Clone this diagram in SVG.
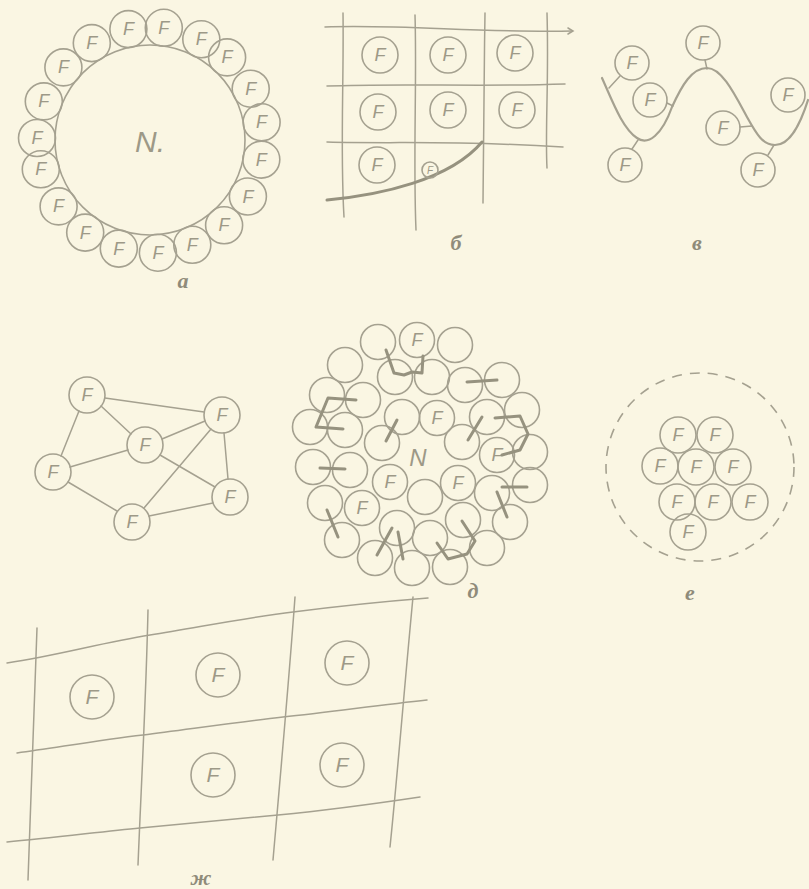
<svg xmlns="http://www.w3.org/2000/svg" width="809" height="889" viewBox="0 0 809 889">
<style>
.c{fill:none;stroke:#a5a190;stroke-width:1.6}
.ln{fill:none;stroke:#a5a190;stroke-width:1.5;stroke-linecap:round}
.bd{fill:none;stroke:#96927f;stroke-width:3;stroke-linecap:round;stroke-linejoin:round}
.t{font-family:"Liberation Sans",sans-serif;font-style:italic;fill:#9d9987;font-size:18px;text-anchor:middle}
.lb{font-family:"Liberation Serif",serif;font-style:italic;font-weight:bold;fill:#8f8b7a;font-size:22px;text-anchor:middle}
</style>
<rect width="809" height="889" fill="#faf6e3"/>

<!-- Panel a -->
<g id="panel-a">
<g id="a-nucleus"><circle class="c" cx="150" cy="140" r="95"/><text class="t" x="150" y="152" style="font-size:30px">N.</text></g>
<g id="a-ring">
<g><circle class="c" cx="43.8" cy="101.4" r="18.5"/><text class="t" x="43.8" y="107.4">F</text></g>
<g><circle class="c" cx="63.4" cy="67.4" r="18.5"/><text class="t" x="63.4" y="73.4">F</text></g>
<g><circle class="c" cx="91.8" cy="43.1" r="18.5"/><text class="t" x="91.8" y="49.1">F</text></g>
<g><circle class="c" cx="128.4" cy="29.1" r="18.5"/><text class="t" x="128.4" y="35.1">F</text></g>
<g><circle class="c" cx="163.8" cy="27.8" r="18.5"/><text class="t" x="163.8" y="33.8">F</text></g>
<g><circle class="c" cx="201.3" cy="39.3" r="18.5"/><text class="t" x="201.3" y="45.3">F</text></g>
<g><circle class="c" cx="227.1" cy="57.4" r="18.5"/><text class="t" x="227.1" y="63.4">F</text></g>
<g><circle class="c" cx="250.7" cy="88.7" r="18.5"/><text class="t" x="250.7" y="94.7">F</text></g>
<g><circle class="c" cx="261.6" cy="122.3" r="18.5"/><text class="t" x="261.6" y="128.3">F</text></g>
<g><circle class="c" cx="261.3" cy="159.6" r="18.5"/><text class="t" x="261.3" y="165.6">F</text></g>
<g><circle class="c" cx="247.9" cy="196.5" r="18.5"/><text class="t" x="247.9" y="202.5">F</text></g>
<g><circle class="c" cx="224.1" cy="225.3" r="18.5"/><text class="t" x="224.1" y="231.3">F</text></g>
<g><circle class="c" cx="192.3" cy="244.8" r="18.5"/><text class="t" x="192.3" y="250.8">F</text></g>
<g><circle class="c" cx="157.9" cy="252.7" r="18.5"/><text class="t" x="157.9" y="258.7">F</text></g>
<g><circle class="c" cx="118.8" cy="248.6" r="18.5"/><text class="t" x="118.8" y="254.6">F</text></g>
<g><circle class="c" cx="85.2" cy="232.6" r="18.5"/><text class="t" x="85.2" y="238.6">F</text></g>
<g><circle class="c" cx="58.6" cy="206.4" r="18.5"/><text class="t" x="58.6" y="212.4">F</text></g>
<g><circle class="c" cx="40.8" cy="169.3" r="18.5"/><text class="t" x="40.8" y="175.3">F</text></g>
<g><circle class="c" cx="37" cy="138" r="18.5"/><text class="t" x="37" y="144">F</text></g>
</g>
<text class="lb" x="183" y="288">а</text>
</g>

<!-- Panel b -->
<g id="panel-b">
<path class="ln" d="M325,27 C400,24 480,33 572,31"/>
<path class="ln" d="M568,28 L573,31 L568,34"/>
<path class="ln" d="M327,86 C400,83 480,87 565,84"/>
<path class="ln" d="M327,142 C400,144 450,140 563,147"/>
<path class="ln" d="M343,13 C344,80 340,150 344,217"/>
<path class="ln" d="M415,15 C417,80 413,160 416,230"/>
<path class="ln" d="M485,13 C484,80 483,150 483,203"/>
<path class="ln" d="M547,13 C549,80 545,130 547,168"/>
<path class="bd" d="M327,200 C380,195 450,180 482,142"/>
<g id="b-f1"><circle class="c" cx="380" cy="55" r="18"/><text class="t" x="380" y="61">F</text></g>
<g id="b-f2"><circle class="c" cx="448" cy="55" r="18"/><text class="t" x="448" y="61">F</text></g>
<g id="b-f3"><circle class="c" cx="515" cy="53" r="18"/><text class="t" x="515" y="59">F</text></g>
<g id="b-f4"><circle class="c" cx="378" cy="112" r="18"/><text class="t" x="378" y="118">F</text></g>
<g id="b-f5"><circle class="c" cx="448" cy="110" r="18"/><text class="t" x="448" y="116">F</text></g>
<g id="b-f6"><circle class="c" cx="517" cy="110" r="18"/><text class="t" x="517" y="116">F</text></g>
<g id="b-f7"><circle class="c" cx="377" cy="165" r="18"/><text class="t" x="377" y="171">F</text></g>
<g id="b-f8"><circle class="c" cx="430" cy="170" r="8"/><text class="t" x="430" y="174" style="font-size:10px">F</text></g>
<text class="lb" x="456" y="250">б</text>
</g>

<!-- Panel v -->
<g id="panel-v">
<path class="ln" style="stroke-width:2.2" d="M602,78 C612,100 622,128 637,138 C648,146 662,135 672,107 C682,85 692,68 707,68 C722,68 735,95 747,117 C757,135 763,145 775,145 C790,145 800,125 808,100"/>
<path class="ln" d="M609,88 L620,76 M667,103 L673,106 M705,60 L707,69 M632,149 L638,140 M740,127 L752,126 M768,155 L774,145"/>
<g id="v-f1"><circle class="c" cx="632" cy="63" r="17"/><text class="t" x="632" y="69">F</text></g>
<g id="v-f2"><circle class="c" cx="650" cy="100" r="17"/><text class="t" x="650" y="106">F</text></g>
<g id="v-f3"><circle class="c" cx="703" cy="43" r="17"/><text class="t" x="703" y="49">F</text></g>
<g id="v-f4"><circle class="c" cx="625" cy="165" r="17"/><text class="t" x="625" y="171">F</text></g>
<g id="v-f5"><circle class="c" cx="723" cy="128" r="17"/><text class="t" x="723" y="134">F</text></g>
<g id="v-f6"><circle class="c" cx="788" cy="95" r="17"/><text class="t" x="788" y="101">F</text></g>
<g id="v-f7"><circle class="c" cx="758" cy="170" r="17"/><text class="t" x="758" y="176">F</text></g>
<text class="lb" x="697" y="250">в</text>
</g>

<!-- Panel g (network) -->
<g id="panel-g">
<g id="connectors">
<line class="ln" x1="105" y1="398" x2="204" y2="412"/>
<line class="ln" x1="101" y1="406" x2="131" y2="434"/>
<line class="ln" x1="79" y1="411" x2="61" y2="456"/>
<line class="ln" x1="128" y1="450" x2="70" y2="467"/>
<line class="ln" x1="162" y1="439" x2="205" y2="421"/>
<line class="ln" x1="160" y1="455" x2="215" y2="487"/>
<line class="ln" x1="68" y1="482" x2="117" y2="511"/>
<line class="ln" x1="144" y1="508" x2="211" y2="429"/>
<line class="ln" x1="149" y1="516" x2="213" y2="503"/>
<line class="ln" x1="224" y1="433" x2="228" y2="479"/>
</g>
<g id="g-f1"><circle class="c" cx="87" cy="395" r="18"/><text class="t" x="87" y="401">F</text></g>
<g id="g-f2"><circle class="c" cx="222" cy="415" r="18"/><text class="t" x="222" y="421">F</text></g>
<g id="g-f3"><circle class="c" cx="145" cy="445" r="18"/><text class="t" x="145" y="451">F</text></g>
<g id="g-f4"><circle class="c" cx="53" cy="472" r="18"/><text class="t" x="53" y="478">F</text></g>
<g id="g-f5"><circle class="c" cx="230" cy="497" r="18"/><text class="t" x="230" y="503">F</text></g>
<g id="g-f6"><circle class="c" cx="132" cy="522" r="18"/><text class="t" x="132" y="528">F</text></g>
</g>

<!-- Panel d (cluster) -->
<g id="panel-d">
<g id="d-circles">
<circle class="c" cx="378" cy="342" r="17.5"/>
<g id="d-f1"><circle class="c" cx="417" cy="340" r="17.5"/><text class="t" x="417" y="346">F</text></g>
<circle class="c" cx="455" cy="345" r="17.5"/>
<circle class="c" cx="345" cy="365" r="17.5"/>
<circle class="c" cx="395" cy="377" r="17.5"/>
<circle class="c" cx="432" cy="377" r="17.5"/>
<circle class="c" cx="465" cy="385" r="17.5"/>
<circle class="c" cx="502" cy="380" r="17.5"/>
<circle class="c" cx="327" cy="395" r="17.5"/>
<circle class="c" cx="363" cy="400" r="17.5"/>
<circle class="c" cx="402" cy="417" r="17.5"/>
<g id="d-f2"><circle class="c" cx="437" cy="418" r="17.5"/><text class="t" x="437" y="424">F</text></g>
<circle class="c" cx="487" cy="417" r="17.5"/>
<circle class="c" cx="522" cy="410" r="17.5"/>
<circle class="c" cx="310" cy="427" r="17.5"/>
<circle class="c" cx="345" cy="430" r="17.5"/>
<circle class="c" cx="382" cy="443" r="17.5"/>
<circle class="c" cx="462" cy="442" r="17.5"/>
<g id="d-f3"><circle class="c" cx="497" cy="455" r="17.5"/><text class="t" x="497" y="461">F</text></g>
<circle class="c" cx="530" cy="452" r="17.5"/>
<circle class="c" cx="313" cy="467" r="17.5"/>
<circle class="c" cx="350" cy="470" r="17.5"/>
<g id="d-f4"><circle class="c" cx="390" cy="482" r="17.5"/><text class="t" x="390" y="488">F</text></g>
<g id="d-f5"><circle class="c" cx="458" cy="483" r="17.5"/><text class="t" x="458" y="489">F</text></g>
<circle class="c" cx="492" cy="493" r="17.5"/>
<circle class="c" cx="530" cy="485" r="17.5"/>
<circle class="c" cx="325" cy="503" r="17.5"/>
<g id="d-f6"><circle class="c" cx="362" cy="508" r="17.5"/><text class="t" x="362" y="514">F</text></g>
<circle class="c" cx="425" cy="497" r="17.5"/>
<circle class="c" cx="463" cy="520" r="17.5"/>
<circle class="c" cx="510" cy="522" r="17.5"/>
<circle class="c" cx="342" cy="540" r="17.5"/>
<circle class="c" cx="397" cy="528" r="17.5"/>
<circle class="c" cx="430" cy="538" r="17.5"/>
<circle class="c" cx="487" cy="548" r="17.5"/>
<circle class="c" cx="375" cy="558" r="17.5"/>
<circle class="c" cx="412" cy="568" r="17.5"/>
<circle class="c" cx="450" cy="567" r="17.5"/>
</g>
<text class="t" x="418" y="466" style="font-size:24px">N</text>
<g id="d-bonds">
<path class="bd" d="M386,350 L394,373 L404,375 L412,372 L422,373 L423,356"/>
<path class="bd" d="M356,400 L328,398 L316,427 L343,429"/>
<path class="bd" d="M397,420 L386,441"/>
<path class="bd" d="M320,468 L345,469"/>
<path class="bd" d="M327,510 L338,537"/>
<path class="bd" d="M392,528 L377,555 M398,532 L403,559"/>
<path class="bd" d="M467,382 L497,380"/>
<path class="bd" d="M482,417 L468,440"/>
<path class="bd" d="M495,418 L520,416 L528,434 L520,450 L502,455"/>
<path class="bd" d="M502,487 L527,487"/>
<path class="bd" d="M497,492 L507,517"/>
<path class="bd" d="M462,521 L475,541 L467,554 L448,559 L437,543"/>
</g>
<text class="lb" x="473" y="598">д</text>
</g>

<!-- Panel e -->
<g id="panel-e">
<circle class="c" cx="700" cy="467" r="94" stroke-dasharray="10,8"/>
<g id="e-f1"><circle class="c" cx="678" cy="435" r="18"/><text class="t" x="678" y="441">F</text></g>
<g id="e-f2"><circle class="c" cx="715" cy="435" r="18"/><text class="t" x="715" y="441">F</text></g>
<g id="e-f3"><circle class="c" cx="660" cy="466" r="18"/><text class="t" x="660" y="472">F</text></g>
<g id="e-f4"><circle class="c" cx="696" cy="467" r="18"/><text class="t" x="696" y="473">F</text></g>
<g id="e-f5"><circle class="c" cx="733" cy="467" r="18"/><text class="t" x="733" y="473">F</text></g>
<g id="e-f6"><circle class="c" cx="677" cy="502" r="18"/><text class="t" x="677" y="508">F</text></g>
<g id="e-f7"><circle class="c" cx="713" cy="502" r="18"/><text class="t" x="713" y="508">F</text></g>
<g id="e-f8"><circle class="c" cx="750" cy="502" r="18"/><text class="t" x="750" y="508">F</text></g>
<g id="e-f9"><circle class="c" cx="688" cy="532" r="18"/><text class="t" x="688" y="538">F</text></g>
<text class="lb" x="690" y="600">е</text>
</g>

<!-- Panel zh -->
<g id="panel-zh">
<path class="ln" d="M7,663 C60,655 100,643 150,635 C200,627 250,617 293,612 C340,606 390,601 428,598"/>
<path class="ln" d="M17,753 C60,747 100,740 143,735 C190,729 240,722 283,717 C330,712 380,705 427,700"/>
<path class="ln" d="M7,842 C50,838 100,832 140,828 C190,823 240,819 278,815 C330,810 380,803 420,797"/>
<path class="ln" d="M37,628 C35,700 32,790 28,880"/>
<path class="ln" d="M148,610 C146,700 141,790 138,865"/>
<path class="ln" d="M295,597 C289,680 280,780 273,860"/>
<path class="ln" d="M413,597 C405,680 397,780 390,847"/>
<g id="zh-f1"><circle class="c" cx="92" cy="697" r="22"/><text class="t" x="92" y="704" style="font-size:21px">F</text></g>
<g id="zh-f2"><circle class="c" cx="218" cy="675" r="22"/><text class="t" x="218" y="682" style="font-size:21px">F</text></g>
<g id="zh-f3"><circle class="c" cx="347" cy="663" r="22"/><text class="t" x="347" y="670" style="font-size:21px">F</text></g>
<g id="zh-f4"><circle class="c" cx="213" cy="775" r="22"/><text class="t" x="213" y="782" style="font-size:21px">F</text></g>
<g id="zh-f5"><circle class="c" cx="342" cy="765" r="22"/><text class="t" x="342" y="772" style="font-size:21px">F</text></g>
<text class="lb" x="201" y="885">ж</text>
</g>
</svg>
